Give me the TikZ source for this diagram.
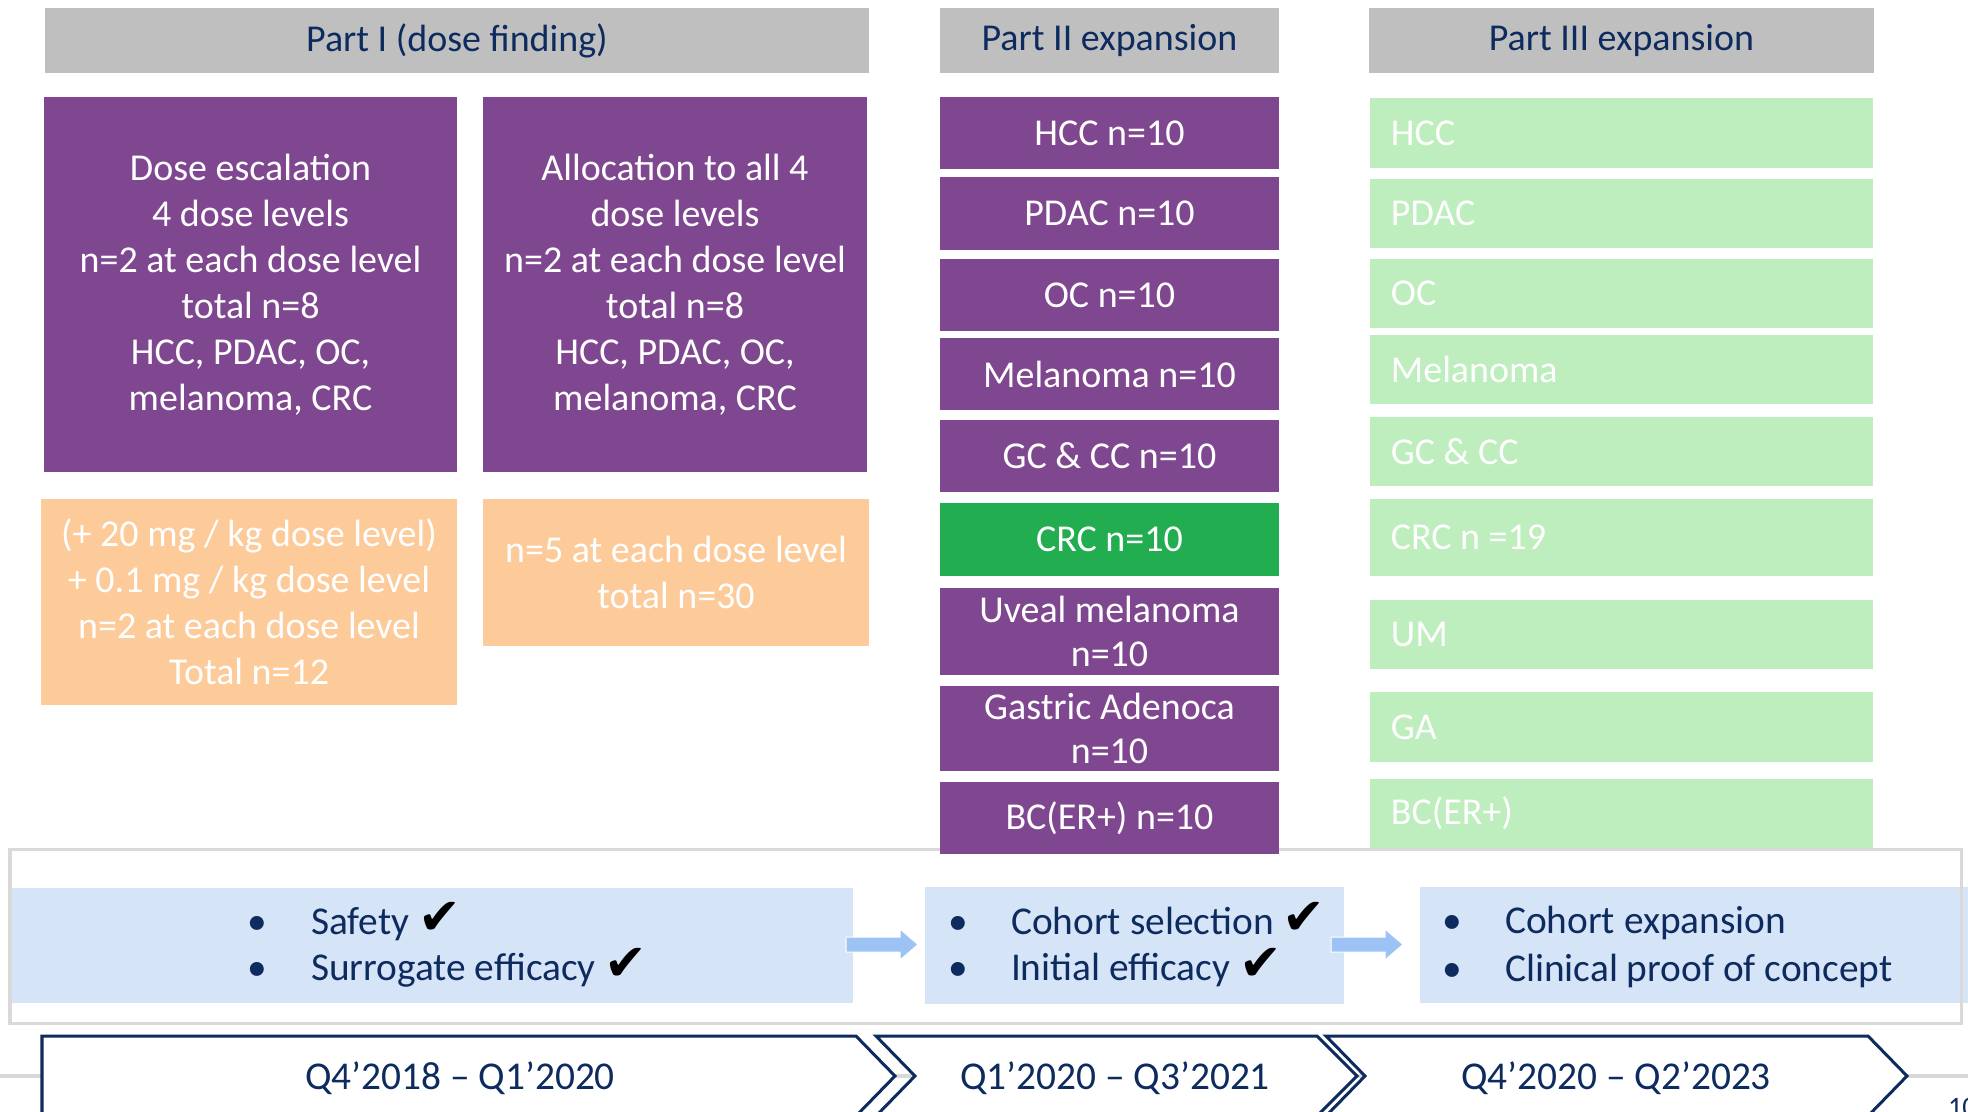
\documentclass[tikz,border=0pt]{standalone}
\usepackage{fontspec}
\setmainfont{Carlito}
\newfontfamily\checkfont{DejaVu Sans}
\usetikzlibrary{fit}

\definecolor{headgray}{HTML}{BFBFBF}
\definecolor{purp}{HTML}{7F4790}
\definecolor{peach}{HTML}{FDCA99}
\definecolor{crcgreen}{HTML}{22AE50}
\definecolor{palegreen}{HTML}{BEEDBE}
\definecolor{paleblue}{HTML}{D6E4F8}
\definecolor{arrowblue}{HTML}{9DC3F5}
\definecolor{framegray}{HTML}{D9D9D9}
\definecolor{navy}{HTML}{0D2B5E}

\newcommand{\boxfont}{\fontsize{10.8}{13.1}\selectfont}
\newcommand{\cellfont}{\fontsize{10.8}{12.4}\selectfont}
\newcommand{\listfont}{\fontsize{11.2}{13.1}\selectfont}
\newcommand{\tick}{{\checkfont\color{black}\fontsize{14.5}{14}\selectfont ✔}}
\newcommand{\bul}{\makebox[0.63cm][l]{•}}

\begin{document}
\begin{tikzpicture}[x=0.01cm, y=-0.01cm,
  every node/.style={inner sep=0pt, outer sep=0pt},
  header/.style={fill=headgray, text=navy, font=\boxfont, minimum height=0.65cm},
  dosebox/.style={fill=purp, text=white, align=center, font=\boxfont},
  addbox/.style={fill=peach, text=white, align=center, font=\boxfont},
  cohort/.style={text=white, align=center, font=\cellfont, minimum width=3.39cm},
  expbox/.style={fill=palegreen, minimum width=5.03cm},
  exptext/.style={anchor=west, xshift=0.21cm, text=white, font=\boxfont},
  goalbox/.style={fill=paleblue},
  goaltext/.style={anchor=west, text=navy, align=left, font=\listfont},
  chev/.style={draw=navy, fill=white, line width=0.03cm},
  period/.style={text=navy, font=\fontsize{11.2}{13}\selectfont}]

\useasboundingbox (0,0) rectangle (1968,1111);

% column headers
\node[header, minimum width=8.24cm] (hdrI) at (457,40.5) {Part I (dose finding)};
\node[header, minimum width=3.39cm] (hdrII) at (1109.5,40.5) {Part II expansion};
\node[header, minimum width=5.05cm] (hdrIII) at (1621.5,40.5) {Part III expansion};

% Part I
\node[dosebox, minimum width=4.13cm, minimum height=3.75cm] (escal) at (250.5,284.5)
  {Dose escalation\\4 dose levels\\n=2 at each dose level\\total n=8\\HCC, PDAC, OC,\\melanoma, CRC};
\node[dosebox, minimum width=3.84cm, minimum height=3.75cm] (alloc) at (675,284.5)
  {Allocation to all 4\\dose levels\\n=2 at each dose level\\total n=8\\HCC, PDAC, OC,\\melanoma, CRC};
\node[addbox, minimum width=4.16cm, minimum height=2.06cm] (extra) at (249,602)
  {(+ 20 mg / kg dose level)\\+ 0.1 mg / kg dose level\\n=2 at each dose level\\Total n=12};
\node[addbox, minimum width=3.86cm, minimum height=1.47cm] (allocfive) at (676,572.5)
  {n=5 at each dose level\\total n=30};

% goals band
\node[goalbox, fit={(12,888) (853,1003)}] (goalI) {};
\node[goalbox, fit={(925,887) (1344,1004)}] (goalII) {};
\node[goalbox, fit={(1420,887) (1968,1003)}] (goalIII) {};
\draw[framegray, line width=0.03cm] (10,849) rectangle (1961,1023);

% Part II cohorts
\foreach \n/\top/\bot/\col/\txt in {hcc/97/169/purp/{HCC n=10}, pdac/177/250/purp/{PDAC n=10},
    oc/259/331/purp/{OC n=10}, mel/338/410/purp/{Melanoma n=10}, gc/420/492/purp/{GC \& CC n=10},
    crc/503/576/crcgreen/{CRC n=10}, um/588/675/purp/{Uveal melanoma\\n=10},
    ga/686/771/purp/{Gastric Adenoca\\n=10}, bc/782/854/purp/{BC(ER+) n=10}} {
    \pgfmathsetmacro{\yc}{(\top+\bot)/2}
    \pgfmathsetmacro{\hh}{(\bot-\top)/100}
    \node[cohort, fill=\col, minimum height=\hh cm] (two\n) at (1109.5,\yc) {\txt};
}

% Part III cohorts
\foreach \n/\top/\bot/\txt in {hcc/98/168/HCC, pdac/179/248/PDAC, oc/259/328/OC,
    mel/335/404/Melanoma, gc/417/486/{GC \& CC}, crc/499/576/{CRC n =19},
    um/600/669/UM, ga/692/762/GA, bc/779/848/BC(ER+)} {
    \pgfmathsetmacro{\yc}{(\top+\bot)/2}
    \pgfmathsetmacro{\hh}{(\bot-\top)/100}
    \node[expbox, minimum height=\hh cm, label={[exptext]west:\txt}] (three\n) at (1621.5,\yc) {};
}

% block arrows between the goal boxes
\foreach \xa in {846,1331} {
    \fill[arrowblue, draw=white, line width=0.01cm] (\xa,937) -- ++(54,0) -- ++(0,-8)
      -- ++(18,15.5) -- ++(-18,15.5) -- ++(0,-8) -- ++(-54,0) -- cycle;
}

\node[goaltext] (listI) at (248,945) {\bul Safety \tick\\\bul Surrogate efficacy \tick};
\node[goaltext] (listII) at (948,945) {\bul Cohort selection \tick\\\bul Initial efficacy \tick};
\node[goaltext, font=\fontsize{11.2}{13.9}\selectfont] (listIII) at (1442,947) {\bul Cohort expansion\\\bul Clinical proof of concept};

% timeline
\draw[framegray, line width=0.045cm] (0,1076) -- (1968,1076);
\draw[chev] (42,1036) -- (856,1036) -- (895,1076) -- (856,1116) -- (42,1116) -- cycle;
\draw[chev] (876,1036) -- (1317,1036) -- (1357,1076) -- (1317,1116) -- (876,1116) -- (915,1076) -- cycle;
\draw[chev] (1326,1036) -- (1868,1036) -- (1907,1076) -- (1868,1116) -- (1326,1116) -- (1365,1076) -- cycle;
\node[period] (perI) at (460,1078) {Q4’2018 – Q1’2020};
\node[period] (perII) at (1115,1078) {Q1’2020 – Q3’2021};
\node[period] (perIII) at (1616,1078) {Q4’2020 – Q2’2023};

\node[anchor=north west, text=navy, font=\fontsize{8}{9}\selectfont] (pagenum) at (1948,1098) {10};

\end{tikzpicture}
\end{document}
